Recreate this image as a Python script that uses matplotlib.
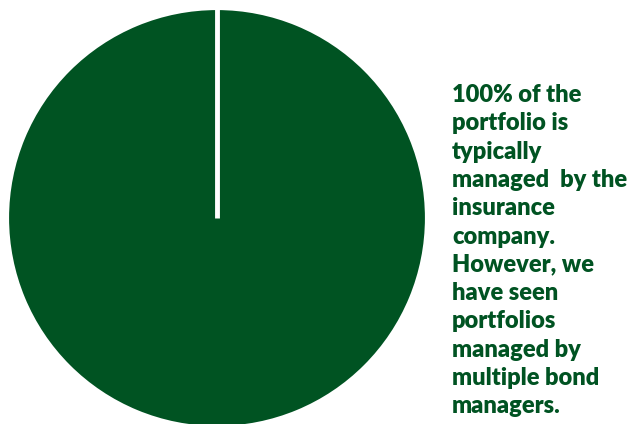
import matplotlib.pyplot as plt
import numpy as np

# share of portfolio managed by the insurance company
labels = ["Insurance company"]
shares = [100]

note = ("100% of the\nportfolio is\ntypically\nmanaged  by the\ninsurance\ncompany.\n"
        "However, we\nhave seen\nportfolios\nmanaged by\nmultiple bond\nmanagers.")

GREEN = "#005322"
cx, cy, r = 217, 206, 210
start = 90

fig = plt.figure(figsize=(6.31, 4.24), dpi=100)
ax = fig.add_axes([0, 0, 1, 1])

ax.pie(shares, labels=None, colors=[GREEN], startangle=start, counterclock=False,
       center=(cx, cy), radius=r,
       wedgeprops=dict(edgecolor="white", linewidth=3))
# wedge border (full circle wedge has no radial edge drawn by matplotlib)
ang = np.deg2rad(start)
ax.plot([cx, cx + r * np.cos(ang)], [cy, cy + r * np.sin(ang)],
        color="white", lw=3.5, solid_capstyle="butt")

ax.set_xlim(0, 631)
ax.set_ylim(0, 424)
ax.set_aspect("equal")
ax.axis("off")

fig.text(452 / 631, 1 - 84 / 424, note, ha="left", va="top", color=GREEN,
         fontsize=17, fontweight="heavy", family="Lato", linespacing=1.35)

fig.savefig("out.png", dpi=100)
